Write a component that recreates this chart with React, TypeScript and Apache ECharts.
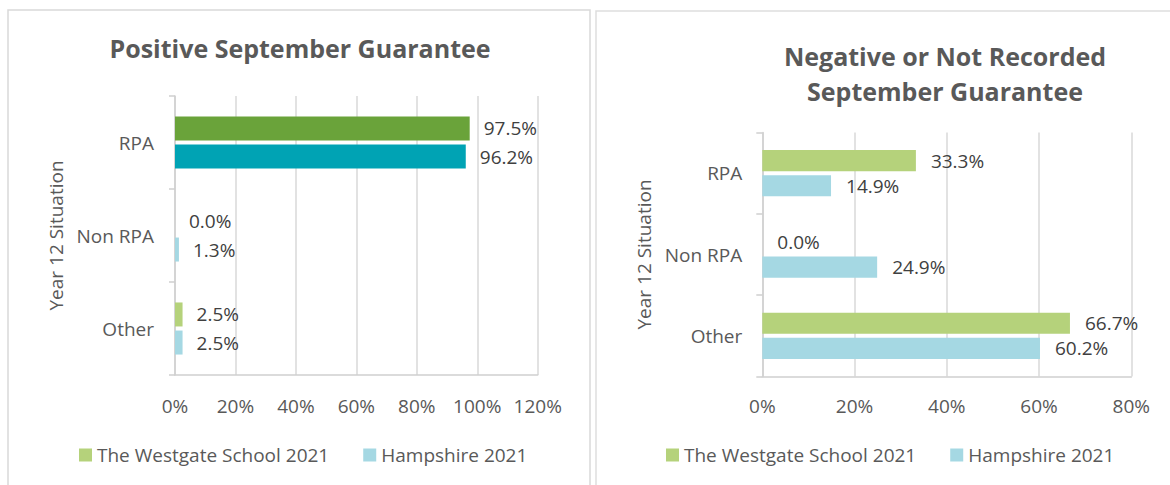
import React, { useEffect, useRef } from "react";
import * as echarts from "echarts";

const categories = ["RPA", "Non RPA", "Other"];
const seriesNames = ["The Westgate School 2021", "Hampshire 2021"];
const leftSchool = [97.5, 0.0, 2.5];
const leftHampshire = [96.2, 1.3, 2.5];
const rightSchool = [33.3, 0.0, 66.7];
const rightHampshire = [14.9, 24.9, 60.2];
const leftAxisMax = 120;
const rightAxisMax = 80;
const axisInterval = 20;
const leftTitle = "Positive September Guarantee";
const rightTitle = "Negative or Not Recorded\nSeptember Guarantee";
const axisName = "Year 12 Situation";

const FONT = "'Open Sans', 'Noto Sans', sans-serif";
const GREEN_LIGHT = "#b5d27b";
const BLUE_LIGHT = "#a5d8e3";
const GREEN_DARK = "#6aa33a";
const BLUE_DARK = "#00a3b4";
const TEXT = "#595959";
const LABEL = "#404040";
const GRID = "#d9d9d9";
const AXIS = "#cfcfcf";
const FS = 19;

export default function App() {
  const ref = useRef<HTMLDivElement>(null);
  useEffect(() => {
    if (!ref.current) return;
    const chart = echarts.init(ref.current, undefined, { renderer: "svg" });

    const xAxisBase = (max: number, margin: number) => ({
      type: "value",
      min: 0,
      max,
      interval: axisInterval,
      axisLine: { show: true, lineStyle: { color: AXIS, width: 1.5 } },
      axisTick: { show: false },
      splitLine: { show: true, lineStyle: { color: GRID, width: 1.5 } },
      axisLabel: {
        formatter: (v: number) => `${v}%`,
        color: TEXT,
        fontSize: FS,
        fontFamily: FONT,
        margin,
      },
    });

    const yAxisBase = (margin: number, nameGap: number) => ({
      type: "category",
      data: categories,
      inverse: true,
      name: axisName,
      nameLocation: "middle",
      nameRotate: 90,
      nameGap,
      nameTextStyle: { color: TEXT, fontSize: FS, fontFamily: FONT },
      axisLine: { show: true, lineStyle: { color: AXIS, width: 1.5 } },
      axisTick: { show: true, length: 6, lineStyle: { color: AXIS, width: 1.5 } },
      axisLabel: { color: TEXT, fontSize: FS, fontFamily: FONT, margin },
      splitLine: { show: false },
    });

    const label = (distance: number) => ({
      show: true,
      position: "right",
      distance,
      color: LABEL,
      fontSize: FS,
      fontFamily: FONT,
      formatter: (p: any) => `${Number(p.value).toFixed(1)}%`,
    });

    const highlight = (vals: number[], color: string) =>
      vals.map((v, i) => (i === 0 ? { value: v, itemStyle: { color } } : v));

    const legendBase = {
      top: 444,
      padding: 0,
      itemWidth: 13,
      itemHeight: 13,
      itemGap: 34,
      icon: "rect",
      textStyle: { color: TEXT, fontSize: FS, fontFamily: FONT, lineHeight: 22 },
      data: seriesNames,
    };

    chart.setOption({
      animation: false,
      backgroundColor: "#ffffff",
      textStyle: { fontFamily: FONT },
      graphic: [
        {
          type: "rect",
          shape: { x: 8, y: 10, width: 582, height: 520 },
          style: { fill: "none", stroke: "#d9d9d9", lineWidth: 1.5 },
          silent: true,
        },
        {
          type: "rect",
          shape: { x: 596, y: 11, width: 620, height: 520 },
          style: { fill: "none", stroke: "#dedede", lineWidth: 1.5 },
          silent: true,
        },
        {
          type: "text",
          x: 300,
          y: 48,
          style: {
            text: leftTitle,
            fontSize: 25,
            fontWeight: "bold",
            fontFamily: FONT,
            fill: TEXT,
            align: "center",
            verticalAlign: "middle",
          },
        },
        {
          type: "text",
          x: 945,
          y: 73,
          style: {
            text: rightTitle,
            fontSize: 25,
            fontWeight: "bold",
            fontFamily: FONT,
            fill: TEXT,
            align: "center",
            verticalAlign: "middle",
            lineHeight: 35,
          },
        },
      ],
      legend: [
        { ...legendBase, left: 79 },
        { ...legendBase, left: 666 },
      ],
      grid: [
        { left: 175, top: 96, width: 362.7, height: 279 },
        { left: 762.3, top: 132.5, width: 369, height: 244 },
      ],
      xAxis: [
        { ...xAxisBase(leftAxisMax, 21), gridIndex: 0 },
        { ...xAxisBase(rightAxisMax, 20), gridIndex: 1 },
      ],
      yAxis: [
        { ...yAxisBase(21, 110), gridIndex: 0 },
        { ...yAxisBase(20, 109), gridIndex: 1 },
      ],
      series: [
        {
          name: seriesNames[0],
          type: "bar",
          xAxisIndex: 0,
          yAxisIndex: 0,
          barGap: "17%",
          barCategoryGap: "44%",
          itemStyle: { color: GREEN_LIGHT },
          label: label(14),
          data: highlight(leftSchool, GREEN_DARK),
        },
        {
          name: seriesNames[1],
          type: "bar",
          xAxisIndex: 0,
          yAxisIndex: 0,
          barGap: "17%",
          barCategoryGap: "44%",
          itemStyle: { color: BLUE_LIGHT },
          label: label(14),
          data: highlight(leftHampshire, BLUE_DARK),
        },
        {
          name: seriesNames[0],
          type: "bar",
          xAxisIndex: 1,
          yAxisIndex: 1,
          barGap: "19%",
          barCategoryGap: "43%",
          itemStyle: { color: GREEN_LIGHT },
          label: label(15),
          data: rightSchool,
        },
        {
          name: seriesNames[1],
          type: "bar",
          xAxisIndex: 1,
          yAxisIndex: 1,
          barGap: "19%",
          barCategoryGap: "43%",
          itemStyle: { color: BLUE_LIGHT },
          label: label(15),
          data: rightHampshire,
        },
      ],
    });
    return () => chart.dispose();
  }, []);

  return (
    <div
      ref={ref}
      style={{ position: "absolute", left: 0, top: 0, width: 1170, height: 485 }}
    />
  );
}
